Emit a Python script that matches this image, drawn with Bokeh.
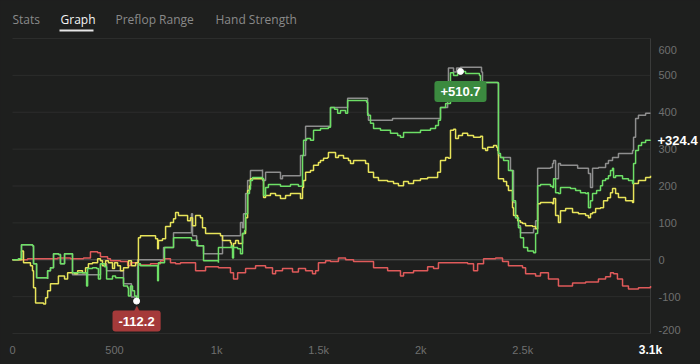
from bokeh.plotting import figure
from bokeh.models import Range1d, Label, BoxAnnotation
from bokeh.core.properties import value
from bokeh.embed import file_html
from bokeh.resources import INLINE
import numpy as np

# ---------------- data ----------------
tabs = ["Stats", "Graph", "Preflop Range", "Hand Strength"]
active_tab = "Graph"

x_ticks = [0, 500, 1000, 1500, 2000, 2500]
x_tick_labels = ["0", "500", "1k", "1.5k", "2k", "2.5k"]
y_ticks = [-200, -100, 0, 100, 200, 300, 400, 500, 600]
y_tick_labels = ["-200", "-100", "0", "100", "200", "300", "400", "500", "600"]
total_hands = 3126
total_label = "3.1k"

green_h = [0,29,44,44,98,103,118,172,172,186,201,225,235,250,255,294,294,358,363,368,392,412,421,431,451,461,490,505,544,564,568,578,588,598,608,617,627,701,711,715,725,745,784,789,872,877,902,907,931,936,1009,1009,1073,1078,1083,1103,1117,1127,1137,1142,1152,1161,1166,1176,1225,1230,1240,1254,1313,1362,1401,1421,1426,1441,1460,1475,1509,1548,1558,1578,1593,1607,1632,1642,1735,1740,1754,1769,1803,1852,1887,1901,1916,1985,1999,2048,2073,2087,2097,2122,2136,2146,2161,2181,2195,2220,2269,2288,2293,2377,2381,2391,2406,2421,2430,2450,2465,2479,2489,2504,2524,2553,2563,2573,2587,2636,2646,2651,2661,2675,2685,2734,2759,2783,2808,2818,2822,2832,2842,2862,2881,2891,2906,2920,2930,2940,2945,2955,2989,3018,3038,3043,3053,3067,3082,3102,3126]
green_v = [0,3,3,41,38,-11,-49,-52,-30,-22,16,14,-11,-11,16,16,-35,-35,-71,-24,-22,-24,-52,-11,-19,-52,-44,-49,-71,-76,-98,-71,-84,-98,-112.2,-11,-16,-16,-57,-8,-8,33,33,60,60,52,52,38,38,-3,-8,33,38,5,33,30,16,71,79,125,180,191,215,223,220,174,196,204,199,204,199,283,324,329,324,351,356,359,413,408,397,405,397,432,427,392,370,356,351,343,337,332,345,345,351,356,364,378,413,424,424,507,500,506,510.7,505,505,500,481,479,288,277,269,269,242,160,114,87,60,33,24,19,71,201,204,199,196,220,182,180,196,193,188,182,180,182,141,160,180,188,201,215,220,228,242,248,223,228,220,215,207,261,296,310,318,324,324.4]

gray_h = [0,29,44,44,98,103,118,172,172,186,201,225,235,250,255,294,294,431,431,461,461,544,544,583,583,608,613,701,740,784,789,872,877,882,897,902,931,936,1009,1029,1117,1117,1127,1132,1142,1152,1166,1225,1225,1240,1303,1313,1323,1401,1411,1426,1436,1548,1558,1632,1642,1735,1740,1744,1852,1862,2097,2097,2132,2136,2156,2161,2171,2176,2195,2293,2298,2303,2377,2381,2391,2430,2440,2455,2465,2479,2489,2543,2553,2563,2573,2636,2646,2651,2661,2675,2685,2759,2769,2808,2822,2832,2842,2871,2906,2920,2940,2969,3038,3043,3053,3067,3102,3126]
gray_v = [0,3,3,41,38,-11,-49,-52,-30,-22,16,14,-11,-11,16,16,-41,-41,-11,-11,-30,-30,-65,-65,-101,-106,0,0,33,33,73,73,125,65,65,38,38,16,16,65,65,101,87,125,180,215,242,245,215,237,237,220,228,228,283,283,362,362,413,413,438,438,397,378,378,383,383,413,432,520,520,509,509,520,522,522,509,481,481,283,277,277,242,155,114,92,73,73,84,106,248,250,261,269,220,261,256,256,248,248,234,196,248,250,261,269,277,288,296,332,383,392,397,397]

yellow_h = [0,39,44,54,88,98,103,113,152,162,172,186,216,225,255,270,304,319,343,358,372,392,417,431,441,456,470,490,500,515,529,544,568,583,603,617,627,686,701,711,715,735,750,774,789,799,813,858,872,882,897,921,931,946,1009,1019,1029,1068,1073,1083,1093,1107,1127,1142,1152,1161,1166,1225,1230,1240,1264,1289,1313,1338,1362,1401,1411,1421,1426,1436,1460,1475,1499,1509,1524,1544,1548,1573,1583,1597,1622,1646,1656,1671,1730,1744,1769,1793,1838,1867,1891,1916,1940,1965,1999,2034,2063,2083,2097,2122,2136,2146,2161,2171,2185,2205,2230,2259,2293,2303,2318,2328,2357,2372,2377,2381,2406,2421,2430,2450,2455,2475,2489,2499,2514,2548,2563,2573,2587,2636,2646,2651,2661,2675,2685,2710,2744,2773,2808,2822,2832,2842,2857,2881,2896,2916,2930,2940,2955,2969,3004,3038,3043,3067,3102,3126]
yellow_v = [0,0,24,-8,-16,-30,-76,-117,-120,-103,-84,-65,-65,-44,-52,-35,-38,-30,-35,-22,-11,-8,3,-3,-16,-3,-8,-24,-8,-16,-30,-22,-3,-16,-8,60,65,65,57,30,52,57,90,101,111,128,120,106,114,92,120,114,87,71,71,65,52,46,33,44,52,44,71,114,188,201,220,220,169,174,180,174,166,174,180,180,166,196,215,237,242,256,264,269,275,277,291,291,277,283,275,269,261,269,261,237,223,215,212,207,201,212,207,215,220,223,223,237,269,277,275,351,354,329,337,343,337,332,335,302,296,305,310,305,296,220,212,201,188,141,120,106,101,98,92,90,84,152,155,155,152,166,120,101,133,139,128,125,120,114,125,128,139,141,160,168,182,193,180,169,160,155,207,215,223,228]

red_h = [0,74,162,221,284,348,382,417,431,466,480,529,564,578,613,676,725,740,774,799,823,897,946,1009,1068,1083,1103,1142,1191,1240,1274,1289,1323,1372,1401,1436,1470,1485,1499,1534,1558,1597,1632,1671,1720,1769,1838,1901,1916,1965,2034,2063,2087,2161,2230,2259,2279,2308,2342,2367,2401,2430,2499,2514,2563,2587,2626,2675,2744,2808,2871,2906,2930,2945,2964,2989,3018,3067,3102,3126]
red_v = [0,3,3,5,3,5,22,19,8,3,-3,-5,-16,-8,-14,-11,-3,3,-8,-11,-8,-30,-19,-22,-35,-52,-35,-24,-16,-22,-38,-30,-24,-33,-24,-30,-38,-30,-8,-3,-5,5,0,-5,-5,-22,-30,-44,-35,-30,-19,-24,-8,-8,-11,-30,-11,3,3,5,-5,-16,-22,-38,-44,-35,-52,-71,-63,-60,-52,-46,-35,-38,-52,-71,-79,-76,-76,-71]

# ---------------- layout / style ----------------
W, H = 700, 364
PL, PR, PT, PB = 12, 650, 38, 333          # plot area in page pixels
Y_MIN, Y_MAX = y_ticks[0], y_ticks[-1]

xpp = total_hands / (PR - PL)
ypp = (Y_MAX - Y_MIN) / (PB - PT)
x_range = Range1d(0 - PL * xpp, total_hands + (W - PR) * xpp)
y_range = Range1d(Y_MIN - (H - PB) * ypp, Y_MAX + PT * ypp)

BG = "#1e1f1e"
GRID = "#2c2d2c"
TICK = "#6f6f6f"
GREEN = "#6ddf66"
YELLOW = "#e8e45a"
GRAY = "#8e8e8e"
RED = "#e05a5a"
FONT = "Liberation Sans"

p = figure(width=W, height=H, min_border=0,
           x_range=x_range, y_range=y_range,
           x_axis_location=None, y_axis_location=None,
           output_backend="svg", toolbar_location=None,
           background_fill_color=BG, border_fill_color=BG, outline_line_color=None)
p.grid.visible = False

# grid, zero line, right axis line
n = len(y_ticks)
p.segment(x0=[0] * n, x1=[total_hands] * n, y0=y_ticks, y1=y_ticks, line_color=GRID, line_width=1)
p.segment(x0=[0], x1=[total_hands], y0=[0], y1=[0], line_color="#515251", line_width=1)
p.segment(x0=[total_hands], x1=[total_hands], y0=[Y_MIN], y1=[Y_MAX], line_color="#3a3b3a", line_width=1)

# tick labels
p.text(x=x_ticks, y=[Y_MIN] * len(x_ticks), text=x_tick_labels, y_offset=16,
       text_align="center", text_baseline="middle", text_color=TICK,
       text_font=value(FONT), text_font_size="11px")
y_off = [-4 if t == Y_MIN else (11 if t == Y_MAX else 0) for t in y_ticks]
p.text(x=[total_hands] * n, y=y_ticks, text=y_tick_labels, x_offset=8, y_offset=y_off,
       text_align="left", text_baseline="middle", text_color=TICK,
       text_font=value(FONT), text_font_size="11px")
p.text(x=[total_hands], y=[Y_MIN], text=[total_label], y_offset=16,
       text_align="center", text_baseline="middle", text_color="#ffffff",
       text_font=value(FONT), text_font_style="bold", text_font_size="12px")

# series
p.step(gray_h, gray_v, mode="after", line_color=GRAY, line_width=1.5)
p.step(red_h, red_v, mode="after", line_color=RED, line_width=1.5)
p.step(yellow_h, yellow_v, mode="after", line_color=YELLOW, line_width=1.5)
p.step(green_h, green_v, mode="after", line_color=GREEN, line_width=1.5)

gv = np.array(green_v)
imax = int(np.argmax(gv))
imin = int(np.argmin(gv))
p.scatter([green_h[imax], green_h[imin]], [green_v[imax], green_v[imin]], size=6, color="white")

p.add_layout(Label(x=green_h[imax], y=green_v[imax], y_offset=-20, text=f"+{green_v[imax]:.1f}",
                   text_align="center", text_baseline="middle", text_color="white",
                   text_font=FONT, text_font_style="bold", text_font_size="13px",
                   background_fill_color="#3b8a3f", padding=6, border_radius=3))
p.add_layout(Label(x=green_h[imin], y=green_v[imin], y_offset=-7, text="\u25b2",
                   text_align="center", text_baseline="middle", text_color="#a53a3a",
                   text_font="DejaVu Sans", text_font_size="8px"))
p.add_layout(Label(x=green_h[imin], y=green_v[imin], y_offset=-20, text=f"{green_v[imin]:.1f}",
                   text_align="center", text_baseline="middle", text_color="white",
                   text_font=FONT, text_font_style="bold", text_font_size="13px",
                   background_fill_color="#a53a3a", padding=6, border_radius=3))
p.text(x=[green_h[-1]], y=[green_v[-1]], text=[f"+{green_v[-1]:.1f}"], x_offset=7,
       text_align="left", text_baseline="middle", text_color="#ffffff",
       text_font=value(FONT), text_font_style="bold", text_font_size="13px")

# tabs above the chart
tab_x = [12, 60, 115, 215]
for t, tx in zip(tabs, tab_x):
    p.add_layout(Label(x=tx, y=H - 19, x_units="screen", y_units="screen", text=t,
                       text_align="left", text_baseline="middle",
                       text_color="#f5f5f5" if t == active_tab else "#8a8a8a",
                       text_font="Open Sans", text_font_size="12px"))
p.add_layout(BoxAnnotation(left=59, right=93, bottom=H - 31, top=H - 29,
                           left_units="screen", right_units="screen",
                           bottom_units="screen", top_units="screen",
                           fill_color="#e6e6e6", fill_alpha=1, line_color=None))

html = file_html(p, INLINE)
html = html.replace("<head>", "<head><style>body{background:%s;}</style>" % BG, 1)
open("out.html", "w").write(html)
